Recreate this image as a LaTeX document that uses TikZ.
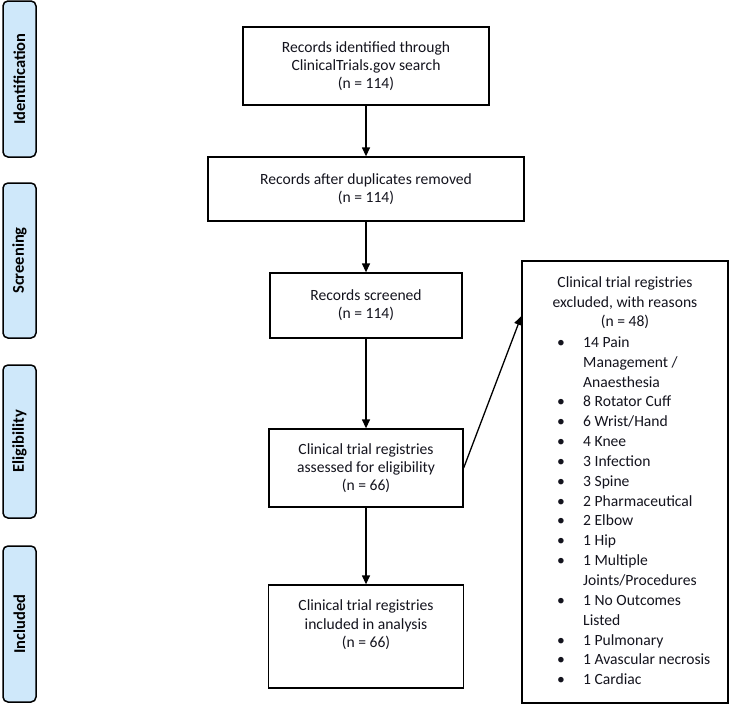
\documentclass[tikz,border=0pt]{standalone}
\usepackage{fontspec}
\setmainfont{Carlito}
\usetikzlibrary{arrows.meta}
\definecolor{sidefill}{RGB}{207,232,250}
\definecolor{inkc}{RGB}{20,20,30}
\tikzset{
  mainbox/.style={draw=black, line width=1.3pt, fill=white, align=center, text=inkc,
    font={\fontsize{15.6}{18.3}\selectfont}, inner sep=2pt},
  sidebox/.style={draw=black, line width=1.5pt, fill=sidefill, rounded corners=5pt,
    minimum width=33pt},
  sidelabel/.style={rotate=90, font={\fontsize{16.5}{18}\selectfont\bfseries}, text=black},
  flow/.style={line width=1.3pt, -{Triangle[length=9pt,width=8pt]}},
  listtext/.style={align=left, text=inkc, inner sep=0pt, font={\fontsize{15.6}{19.85}\selectfont}}
}
\begin{document}
\begin{tikzpicture}[x=1pt,y=-1pt]
\useasboundingbox (0,0) rectangle (731,704);
% side phase boxes
\node[sidebox, minimum height=156pt] (sid) at (19.5,79) {};
\node[sidelabel] (sidt) at (sid.center) {Identification};
\node[sidebox, minimum height=155pt] (sscr) at (19.5,260.5) {};
\node[sidelabel] (sscrt) at (sscr.center) {Screening};
\node[sidebox, minimum height=153pt] (selig) at (19.5,441.5) {};
\node[sidelabel] (seligt) at (selig.center) {Eligibility};
\node[sidebox, minimum height=156pt] (sinc) at (19.5,624) {};
\node[sidelabel] (sinct) at (sinc.center) {Included};
% main flow boxes
\node[mainbox, minimum width=246pt, minimum height=78pt] (b1) at (366,66)
  {Records identified through\\ClinicalTrials.gov search\\(n = 114)};
\node[mainbox, minimum width=316pt, minimum height=64pt] (b2) at (366,189)
  {Records after duplicates removed\\(n = 114)};
\node[mainbox, minimum width=192pt, minimum height=65pt] (b3) at (366,305.5)
  {Records screened\\(n = 114)};
\node[mainbox, minimum width=194pt, minimum height=78pt] (b4) at (366,468)
  {Clinical trial registries\\assessed for eligibility\\(n = 66)};
\node[mainbox, minimum width=195pt, minimum height=103pt] (b5) at (366,636.5)
  {Clinical trial registries\\included in analysis\\(n = 66)\\[7pt]~};
% exclusion box
\node[draw=black, line width=1.3pt, fill=white, minimum width=206pt, minimum height=442pt] (excl) at (625,482) {};
\node[align=center, text=inkc, inner sep=0pt, font={\fontsize{15.6}{19.85}\selectfont}] (exclhead) at (625,302.7)
  {Clinical trial registries\\excluded, with reasons\\(n = 48)};
\newcommand{\bl}{\makebox[26pt][l]{\textbullet}}
\newcommand{\ind}{\hspace*{26pt}}
\node[listtext, anchor=west] (excllist) at (557,510.75)
  {\bl 14 Pain\\
   \ind Management /\\
   \ind Anaesthesia\\
   \bl 8 Rotator Cuff\\
   \bl 6 Wrist/Hand\\
   \bl 4 Knee\\
   \bl 3 Infection\\
   \bl 3 Spine\\
   \bl 2 Pharmaceutical\\
   \bl 2 Elbow\\
   \bl 1 Hip\\
   \bl 1 Multiple\\
   \ind Joints/Procedures\\
   \bl 1 No Outcomes\\
   \ind Listed\\
   \bl 1 Pulmonary\\
   \bl 1 Avascular necrosis\\
   \bl 1 Cardiac};
% connectors
\draw[flow] (b1) -- (b2);
\draw[flow] (b2) -- (b3);
\draw[flow] (b3) -- (b4);
\draw[flow] (b4) -- (b5);
\coordinate (exclin) at ([yshift=166pt]excl.west);
\draw[flow] (b4.east) -- (exclin);
\end{tikzpicture}
\end{document}
